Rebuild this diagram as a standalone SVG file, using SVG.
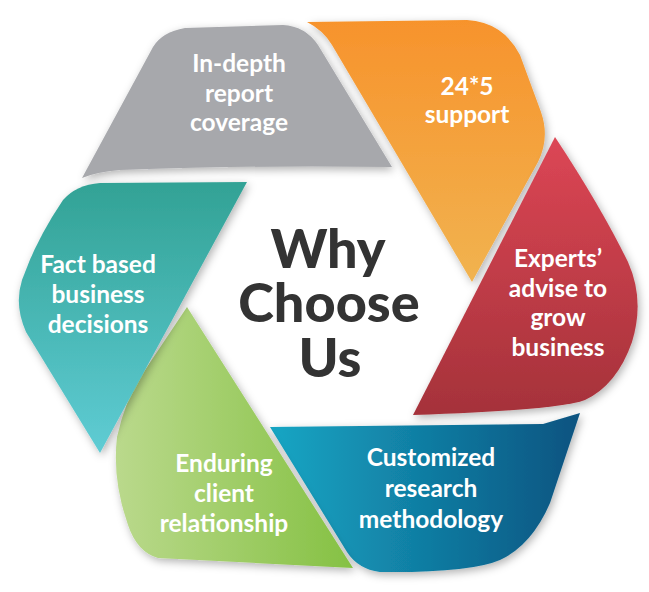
<svg xmlns="http://www.w3.org/2000/svg" width="649" height="592" viewBox="0 0 649 592">
<defs>
<filter id="sh" x="-20%" y="-20%" width="140%" height="140%">
<feDropShadow dx="2" dy="3" stdDeviation="4" flood-color="#000" flood-opacity="0.3"/>
</filter>
<linearGradient id="gOrange" x1="0" y1="0" x2="0" y2="1"><stop offset="0" stop-color="#F7932C"/><stop offset="1" stop-color="#F1B350"/></linearGradient>
<linearGradient id="gRed" x1="0" y1="0" x2="0" y2="1"><stop offset="0" stop-color="#DC4655"/><stop offset="1" stop-color="#A5323A"/></linearGradient>
<linearGradient id="gBlue" x1="0" y1="0" x2="1" y2="0"><stop offset="0" stop-color="#17A6C4"/><stop offset="1" stop-color="#0A5380"/></linearGradient>
<linearGradient id="gGreen" x1="0" y1="0" x2="1" y2="0"><stop offset="0" stop-color="#BAD98C"/><stop offset="1" stop-color="#85C143"/></linearGradient>
<linearGradient id="gTeal" x1="0" y1="0" x2="0" y2="1"><stop offset="0" stop-color="#32A295"/><stop offset="1" stop-color="#5FCCD4"/></linearGradient>
</defs>
<style>
.seg{filter:url(#sh);}
.lbl{font-family:Lato,"Liberation Sans",sans-serif;font-weight:700;font-size:24.5px;fill:#fff;text-anchor:middle;}
.ctr{font-family:Lato,"Liberation Sans",sans-serif;font-weight:900;font-size:54px;fill:#333;text-anchor:middle;}
</style>
<rect width="649" height="592" fill="#fff"/>
<g id="connectors"></g>
<g id="gray">
<path class="seg" fill="#A7A8AC" d="M82,178 L153,47 Q162,32 185,28 L283,25 Q305,26 318,45 L392,167 Q250,165 120,170 Q96,172 82,178 Z"/>
<text class="lbl"><tspan x="239" y="72">In-depth</tspan><tspan x="239" y="102">report</tspan><tspan x="239" y="131">coverage</tspan></text>
</g>
<g id="orange">
<path class="seg" fill="url(#gOrange)" d="M307,22 L467,20 Q503,22 520,55 L541,112 Q550,138 538,162 L472,282 L332,45 Q323,30 307,22 Z"/>
<text class="lbl"><tspan x="467" y="95">24*5</tspan><tspan x="467" y="123">support</tspan></text>
</g>
<g id="red">
<path class="seg" fill="url(#gRed)" d="M555,137 Q600,205 628,262 Q645,300 632,342 Q617,385 585,400 Q560,410 413,415 Z"/>
<text class="lbl"><tspan x="558" y="267">Experts’</tspan><tspan x="558" y="297">advise to</tspan><tspan x="558" y="326">grow</tspan><tspan x="558" y="356">business</tspan></text>
</g>
<g id="blue">
<path class="seg" fill="url(#gBlue)" d="M270,427 L543,424 L580,413 L550,503 Q532,545 500,560 Q470,573 380,572 Q358,569 347,552 Z"/>
<text class="lbl"><tspan x="431" y="466">Customized</tspan><tspan x="431" y="497">research</tspan><tspan x="431" y="528">methodology</tspan></text>
</g>
<g id="green">
<path class="seg" fill="url(#gGreen)" d="M187,307 L353,568 L158,558 Q137,552 128,525 Q112,480 117,437 Q125,400 143,373 Z"/>
<text class="lbl"><tspan x="224" y="472">Enduring</tspan><tspan x="224" y="502">client</tspan><tspan x="224" y="532">relationship</tspan></text>
</g>
<g id="teal">
<path class="seg" fill="url(#gTeal)" d="M247,182 L100,183 Q76,185 63,200 Q36,240 22,280 Q14,305 26,332 L100,453 Z"/>
<text class="lbl"><tspan x="98" y="273">Fact based</tspan><tspan x="98" y="303">business</tspan><tspan x="98" y="333">decisions</tspan></text>
</g>
<g id="center">
<text class="ctr"><tspan x="328" y="268">Why</tspan><tspan x="329" y="322">Choose</tspan><tspan x="330" y="377">Us</tspan></text>
</g>
</svg>
